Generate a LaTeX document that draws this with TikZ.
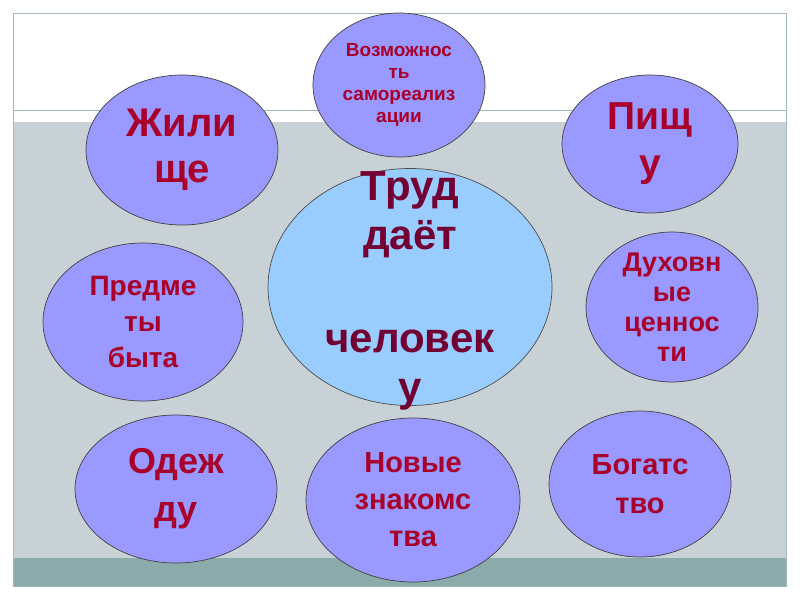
\documentclass[tikz,border=0pt]{standalone}
\usepackage{fontspec}
\setmainfont{Liberation Sans}
\usepackage{xcolor}
\usepackage{tikz}
\usetikzlibrary{shapes.geometric}
\definecolor{slideline}{HTML}{A3B6B9}
\definecolor{slidegrey}{HTML}{C8D2D6}
\definecolor{slideteal}{HTML}{8AABAA}
\definecolor{bubblefill}{HTML}{9999FF}
\definecolor{centerfill}{HTML}{99CCFF}
\definecolor{wordred}{HTML}{A8002A}
\definecolor{worddark}{HTML}{720032}

\begin{document}
\begin{tikzpicture}[
  x=1pt, y=-1pt,
  bubble/.style={ellipse, draw=black!75, line width=0.7pt, fill=bubblefill, inner sep=0pt},
  hub/.style={ellipse, draw=black!70, line width=0.7pt, fill=centerfill, inner sep=0pt},
  bubbletext/.style={inner sep=0pt, align=center, text=wordred},
  hubtext/.style={inner sep=0pt, align=center, text=worddark},
]
\useasboundingbox (0,0) rectangle (800,600);
% slide background
\fill[white] (0,0) rectangle (800,600);
\fill[slidegrey] (13,122) rectangle (786,558);
\fill[slideteal] (13,558) rectangle (786,586);
\draw[slideline, line width=1pt] (13,110) -- (786,110);
\draw[slideline, line width=1pt] (13,13) rectangle (786,586);

% bubbles round the centre
\foreach \nm/\cx/\cy/\rx/\ry/\fs/\bs/\txt in {%
  samoreal/399/85/86/72/19/22/{Возможнос\\ть\\самореализ\\ации},
  zhil/182/150/96/75/40/46/{Жили\\ще},
  pishcha/650/144/88/69/39/47/{Пищ\\у},
  predmety/143/322/100/79/28/36/{Предме\\ты\\быта},
  dukhov/672/307/86/75/27/30/{Духовн\\ые\\ценнос\\ти},
  odezhda/176/489/101/74/36/48/{Одеж\\ду},
  znakom/413/500/107/82/29/37/{Новые\\знакомс\\тва},
  bogat/640/484/91/73/29/39/{Богатс\\тво}%
} {
  \node[bubble, minimum width=2*\rx, minimum height=2*\ry] (\nm) at (\cx,\cy) {};
  \node[bubbletext, font={\fontsize{\fs}{\bs}\selectfont\bfseries}] (\nm-txt) at (\nm.center) {\txt};
}

% centre
\node[hub, minimum width=284, minimum height=237] (trud) at (410,287) {};
\node[hubtext, font={\fontsize{42}{49}\selectfont\bfseries}] (trud-txt)
  at ([yshift=-4pt]trud.center) {Труд\\даёт\\[54pt]человек\\у};
\end{tikzpicture}
\end{document}
